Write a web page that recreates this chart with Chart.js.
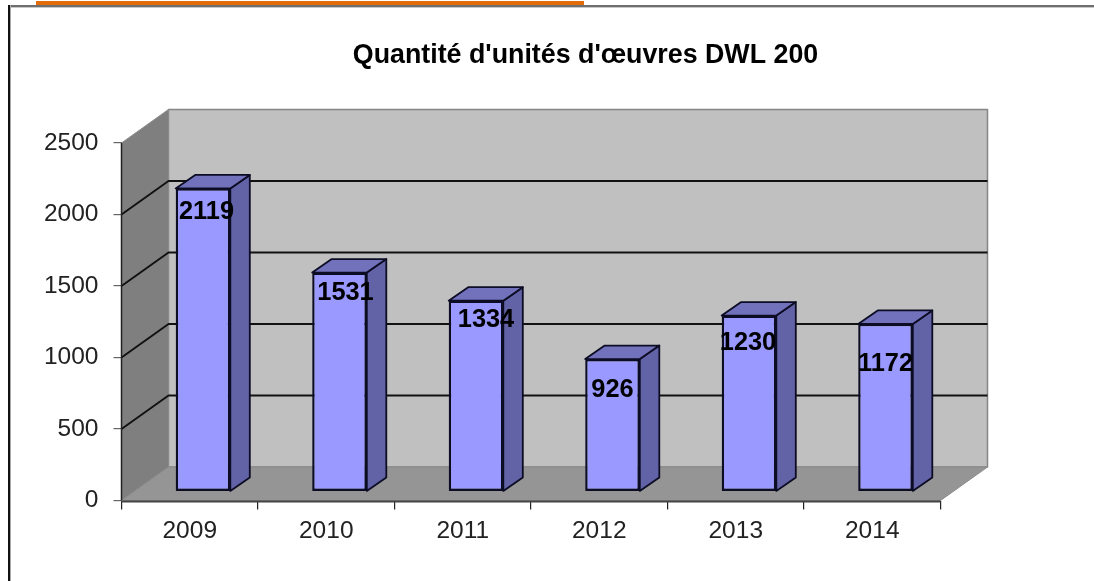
<!DOCTYPE html>
<html lang="fr">
<head>
<meta charset="utf-8">
<title>Quantité d'unités d'œuvres DWL 200</title>
<script src="https://cdn.jsdelivr.net/npm/chart.js@4"></script>
<style>
html,body{margin:0;padding:0;background:#fff;width:1094px;height:581px;overflow:hidden}
#accent{position:absolute;left:36px;top:1px;width:548px;height:4px;background:#E36C0A}
#frameTop{position:absolute;left:8px;top:5px;width:1086px;height:2px;background:#6e6e6e;border-bottom:1px solid #c8c8c8}
#frameLeft{position:absolute;left:8px;top:5px;width:2px;height:576px;background:#111;border-right:1px solid #aaa}
#wrap{position:absolute;left:0;top:0;width:1094px;height:581px}
canvas{filter:blur(0.65px)}
</style>
</head>
<body>
<div id="accent"></div><div id="frameTop"></div><div id="frameLeft"></div>
<div id="wrap"><canvas id="c" width="1094" height="581"></canvas></div>
<script>
const chartTitle = "Quantité d'unités d'œuvres DWL 200";
const categories = ["2009","2010","2011","2012","2013","2014"];
const values = [2119,1531,1334,926,1230,1172];
const yMax = 2500;
const yStep = 500;

const FONT = '"Liberation Sans", Arial, sans-serif';
const wall = {dx:47, dy:-33.5};
const barShift = {x:13.25, y:-9};
const barDepth = {dx:19.5, dy:-13.5};
const labelNudge = {
  x:[3.5,6,10,0,-1,0],
  y:[24,20.5,19.5,31,27.5,40]
};

function poly(ctx, pts, fill, stroke, lw){
  ctx.beginPath();
  pts.forEach((p,i)=> i ? ctx.lineTo(p[0],p[1]) : ctx.moveTo(p[0],p[1]));
  ctx.closePath();
  if(fill){ctx.fillStyle=fill;ctx.fill();}
  if(stroke){ctx.strokeStyle=stroke;ctx.lineWidth=lw||1;ctx.lineJoin='round';ctx.stroke();}
}

const scene3d = {
  id:'scene3d',
  afterLayout(chart){
    // title is centred over the 3D plot, not over the canvas
    chart.titleBlock.left = 231;
    chart.titleBlock.right = 940;
  },
  beforeDatasetsDraw(chart){
    const {ctx, chartArea:a, scales:{y}} = chart;
    const L=a.left,R=a.right,T=y.getPixelForValue(yMax),B=y.getPixelForValue(0);
    const dx=wall.dx,dy=wall.dy;
    ctx.save();
    // back wall
    poly(ctx,[[L+dx,T+dy],[R+dx,T+dy],[R+dx,B+dy],[L+dx,B+dy]],'#C0C0C0','#858585',1.5);
    // left wall
    poly(ctx,[[L,T],[L+dx,T+dy],[L+dx,B+dy],[L,B]],'#7F7F7F','#8a8a8a',1);
    // floor
    poly(ctx,[[L,B],[L+dx,B+dy],[R+dx,B+dy],[R,B]],'#959595','#8a8a8a',1);
    // grid lines
    ctx.strokeStyle='#111';ctx.lineWidth=1.9;
    y.ticks.forEach(t=>{
      if(t.value<=0||t.value>=yMax) return;
      const py=y.getPixelForValue(t.value);
      ctx.beginPath();ctx.moveTo(L,py);ctx.lineTo(L+dx,py+dy);ctx.lineTo(R+dx,py+dy);ctx.stroke();
    });
    // axis lines
    ctx.strokeStyle='#222';ctx.lineWidth=1.5;
    ctx.beginPath();ctx.moveTo(L,T);ctx.lineTo(L,B);ctx.stroke();
    ctx.strokeStyle='#444';ctx.lineWidth=2;
    ctx.beginPath();ctx.moveTo(L,B+1);ctx.lineTo(R,B+1);ctx.stroke();
    ctx.restore();
  },
  beforeDatasetDraw(chart,args){
    const {ctx} = chart;
    args.meta.data.forEach(bar=>{
      const l=bar.x-bar.width/2+barShift.x, r=bar.x+bar.width/2+barShift.x;
      const t=bar.y+barShift.y, b=bar.base+barShift.y;
      const dx=barDepth.dx, dy=barDepth.dy;
      poly(ctx,[[r,t],[r+dx,t+dy],[r+dx,b+dy],[r,b]],'#6262A6','#0c0c24',1.8);
      poly(ctx,[[l,t],[l+dx,t+dy],[r+dx,t+dy],[r,t]],'#7272BC','#0c0c24',1.8);
    });
    ctx.save();
    ctx.translate(barShift.x,barShift.y);
  },
  afterDatasetDraw(chart,args){
    const {ctx} = chart;
    ctx.restore();
    ctx.save();
    ctx.font='bold 25.4px '+FONT;
    ctx.fillStyle='#000';
    ctx.textAlign='center';
    ctx.textBaseline='middle';
    args.meta.data.forEach((bar,i)=>{
      ctx.fillText(String(values[i]),
        bar.x+barShift.x+labelNudge.x[i],
        bar.y+barShift.y+labelNudge.y[i]);
    });
    ctx.restore();
  }
};

new Chart(document.getElementById('c'),{
  type:'bar',
  data:{labels:categories,datasets:[{
    data:values,
    backgroundColor:'#9999FF',
    borderColor:'#0c0c24',
    borderWidth:2.4,
    borderSkipped:false,
    categoryPercentage:1,
    barPercentage:0.4
  }]},
  plugins:[scene3d],
  options:{
    responsive:false,
    animation:false,
    devicePixelRatio:1,
    layout:{padding:{left:0,right:153.5,top:0,bottom:0}},
    plugins:{
      legend:{display:false},
      tooltip:{enabled:false},
      title:{display:true,text:chartTitle,color:'#000',
        font:{family:FONT,size:26.8,weight:'bold',lineHeight:1.2},
        padding:{top:40,bottom:70.8}}
    },
    scales:{
      x:{
        offset:true,
        afterFit(s){s.height=80.5;},
        border:{display:false},
        grid:{display:true,drawOnChartArea:false,drawTicks:true,tickLength:9,color:'#222',lineWidth:1.2,offset:true},
        ticks:{color:'#222',padding:7,font:{family:FONT,size:24.5},maxRotation:0}
      },
      y:{
        min:0,max:yMax,
        afterFit(s){s.width=121.5;},
        border:{display:false},
        grid:{display:true,drawOnChartArea:false,drawTicks:true,tickLength:8,color:'#666',lineWidth:1.2},
        ticks:{stepSize:yStep,color:'#222',padding:15,font:{family:FONT,size:24.5},callback:v=>String(v)}
      }
    }
  }
});
</script>
</body>
</html>
